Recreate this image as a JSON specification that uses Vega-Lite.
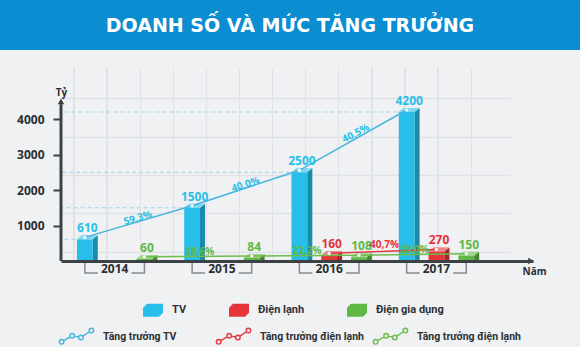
{
  "$schema": "https://vega.github.io/schema/vega-lite/v6.json",
  "background": "#eff1f3",
  "padding": 0,
  "spacing": 18,
  "config": {"font": "Open Sans", "view": {"stroke": null}},
  "resolve": {"legend": {"color": "independent", "stroke": "independent"}},
  "datasets": {
    "banner": [{"title": "DOANH SỐ VÀ MỨC TĂNG TRƯỞNG"}],
    "sales": [
      {"year": "2014", "series": "TV", "value": 610},
      {"year": "2014", "series": "Điện gia dụng", "value": 60},
      {"year": "2015", "series": "TV", "value": 1500, "growth": "59,3%"},
      {"year": "2015", "series": "Điện gia dụng", "value": 84, "growth": "28,6%"},
      {"year": "2016", "series": "TV", "value": 2500, "growth": "40,0%"},
      {"year": "2016", "series": "Điện lạnh", "value": 160},
      {"year": "2016", "series": "Điện gia dụng", "value": 108, "growth": "22,2%"},
      {"year": "2017", "series": "TV", "value": 4200, "growth": "40,5%"},
      {"year": "2017", "series": "Điện lạnh", "value": 270, "growth": "40,7%"},
      {"year": "2017", "series": "Điện gia dụng", "value": 150, "growth": "28,0%"}
    ]
  },
  "vconcat": [
    {
      "width": 580,
      "height": 50,
      "view": {"fill": "#0b8dd1", "stroke": null},
      "data": {"name": "banner"},
      "mark": {"type": "text", "color": "#ffffff", "font": "DejaVu Sans", "fontSize": 19, "fontWeight": "bold", "align": "center", "baseline": "middle", "dy": 1},
      "encoding": {"text": {"field": "title", "type": "nominal"}}
    },
    {
      "width": 533,
      "height": 193,
      "view": {
        "stroke": null,
        "fill": {
          "gradient": "linear", "x1": 0, "y1": 0, "x2": 1, "y2": 0,
          "stops": [
            {"offset": 0, "color": "#eff1f3"},
            {"offset": 0.13762, "color": "#eff1f3"}, {"offset": 0.13762, "color": "#dfe2e6"}, {"offset": 0.14006, "color": "#dfe2e6"}, {"offset": 0.14006, "color": "#eff1f3"},
            {"offset": 0.19972, "color": "#eff1f3"}, {"offset": 0.19972, "color": "#dfe2e6"}, {"offset": 0.20216, "color": "#dfe2e6"}, {"offset": 0.20216, "color": "#eff1f3"},
            {"offset": 0.26182, "color": "#eff1f3"}, {"offset": 0.26182, "color": "#dfe2e6"}, {"offset": 0.26426, "color": "#dfe2e6"}, {"offset": 0.26426, "color": "#eff1f3"},
            {"offset": 0.32392, "color": "#eff1f3"}, {"offset": 0.32392, "color": "#dfe2e6"}, {"offset": 0.32636, "color": "#dfe2e6"}, {"offset": 0.32636, "color": "#eff1f3"},
            {"offset": 0.38602, "color": "#eff1f3"}, {"offset": 0.38602, "color": "#dfe2e6"}, {"offset": 0.38846, "color": "#dfe2e6"}, {"offset": 0.38846, "color": "#eff1f3"},
            {"offset": 0.44812, "color": "#eff1f3"}, {"offset": 0.44812, "color": "#dfe2e6"}, {"offset": 0.45056, "color": "#dfe2e6"}, {"offset": 0.45056, "color": "#eff1f3"},
            {"offset": 0.51022, "color": "#eff1f3"}, {"offset": 0.51022, "color": "#dfe2e6"}, {"offset": 0.51266, "color": "#dfe2e6"}, {"offset": 0.51266, "color": "#eff1f3"},
            {"offset": 0.57233, "color": "#eff1f3"}, {"offset": 0.57233, "color": "#dfe2e6"}, {"offset": 0.57477, "color": "#dfe2e6"}, {"offset": 0.57477, "color": "#eff1f3"},
            {"offset": 0.63443, "color": "#eff1f3"}, {"offset": 0.63443, "color": "#dfe2e6"}, {"offset": 0.63687, "color": "#dfe2e6"}, {"offset": 0.63687, "color": "#eff1f3"},
            {"offset": 0.69653, "color": "#eff1f3"}, {"offset": 0.69653, "color": "#dfe2e6"}, {"offset": 0.69897, "color": "#dfe2e6"}, {"offset": 0.69897, "color": "#eff1f3"},
            {"offset": 0.75863, "color": "#eff1f3"}, {"offset": 0.75863, "color": "#dfe2e6"}, {"offset": 0.76107, "color": "#dfe2e6"}, {"offset": 0.76107, "color": "#eff1f3"},
            {"offset": 0.82073, "color": "#eff1f3"}, {"offset": 0.82073, "color": "#dfe2e6"}, {"offset": 0.82317, "color": "#dfe2e6"}, {"offset": 0.82317, "color": "#eff1f3"},
            {"offset": 0.88283, "color": "#eff1f3"}, {"offset": 0.88283, "color": "#dfe2e6"}, {"offset": 0.88527, "color": "#dfe2e6"}, {"offset": 0.88527, "color": "#eff1f3"},
            {"offset": 1, "color": "#eff1f3"}
          ]
        }
      },
      "data": {"name": "sales"},
      "resolve": {"axis": {"y": "independent"}},
      "encoding": {
        "x": {"field": "year", "type": "ordinal", "scale": {"range": [61, 533], "paddingInner": 0, "paddingOuter": 0.2, "align": 0}},
        "xOffset": {"field": "series", "type": "nominal", "scale": {"domain": ["TV", "Điện lạnh", "Điện gia dụng"], "paddingInner": 0.47, "paddingOuter": 0.535}},
        "y": {"field": "value", "type": "quantitative", "scale": {"domain": [0, 5440], "nice": false}, "axis": null}
      },
      "layer": [
        {
          "mark": {"type": "point", "shape": "M0.5,0L0.817,-0.253L0.817,30L0.5,30Z", "size": 997, "filled": true, "opacity": 1, "strokeWidth": 0, "clip": true},
          "encoding": {
            "y": {"field": "value", "type": "quantitative",
              "axis": {"orient": "left", "offset": -61, "values": [254, 1352, 2423, 3493, 4592], "grid": false, "labels": false, "domain": false, "title": null,
                "ticks": true, "tickSize": -449, "tickColor": "#dfe2e6", "tickWidth": 1.3, "minExtent": 0, "maxExtent": 0}},
            "color": {"field": "series", "type": "nominal", "scale": {"domain": ["TV", "Điện lạnh", "Điện gia dụng"], "range": ["#27bfe9", "#e5343a", "#5fb845"]}}
          }
        },
        {
          "transform": [{"filter": "datum.series == 'TV'"}],
          "mark": {"type": "rule", "color": "#9fd4ea", "strokeWidth": 1, "strokeDash": [4, 3]},
          "encoding": {
            "x": {"field": "year", "type": "ordinal", "bandPosition": 0.2},
            "x2": {"datum": "2014", "bandPosition": 0},
            "xOffset": null
          }
        },
        {
          "mark": {"type": "point", "shape": "M0.5,0L0.817,-0.253L0.817,30L0.5,30Z", "size": 997, "filled": true, "opacity": 0.27, "strokeWidth": 0, "color": "#000000", "clip": true}
        },
        {
          "mark": {"type": "bar"},
          "encoding": {
            "x": {"field": "year", "type": "ordinal",
              "axis": {"title": "Năm", "titleX": 522, "titleY": 13, "titleAlign": "left", "titleBaseline": "alphabetic", "titleFontSize": 10, "titleFontWeight": "bold", "titleColor": "#2b2e31",
                "bandPosition": 0.5, "labelAlign": "center", "labelAngle": 0, "labelFontSize": 12, "labelFontWeight": "bold", "labelColor": "#2b2e31", "labelPadding": 7, "ticks": false, "domainWidth": 3, "domainColor": "#3c4146", "grid": false, "zindex": 1}},
            "y": {"field": "value", "type": "quantitative",
              "axis": {"orient": "left", "offset": -61, "values": [1000, 2000, 3000, 4000], "format": "d", "labelOverlap": false,
                "domain": false, "grid": false, "ticks": true, "tickSize": 8, "tickWidth": 2, "tickColor": "#3c4146",
                "labelFontSize": 12, "labelFontWeight": "bold", "labelColor": "#2b2e31", "labelPadding": 9,
                "title": "Tỷ", "titleAngle": 0, "titleX": 0, "titleY": 27, "titleAlign": "center", "titleBaseline": "alphabetic", "titleFontSize": 10, "titleFontWeight": "bold", "titleColor": "#2b2e31",
                "minExtent": 0, "maxExtent": 0}},
            "color": {"field": "series", "type": "nominal",
              "legend": {"orient": "none", "legendX": 143, "legendY": 232, "direction": "horizontal", "title": null,
                "symbolType": "M-1,-0.25L-0.6,-0.65L1,-0.65L1,0.25L0.6,0.65L-1,0.65Z", "symbolSize": 400, "symbolStrokeWidth": 0, "symbolOpacity": 1,
                "labelFont": "Roboto", "labelFontSize": 11, "labelFontWeight": "bold", "labelColor": "#2e3135", "labelOffset": 9, "columnPadding": 42}}
          }
        },
        {
          "mark": {"type": "point", "shape": "M-0.5,0L0.5,0L0.817,-0.253L-0.183,-0.253Z", "size": 997, "filled": true, "opacity": 1, "strokeWidth": 0},
          "encoding": {"color": {"field": "series", "type": "nominal"}}
        },
        {
          "mark": {"type": "point", "shape": "M-0.5,0L0.5,0L0.817,-0.253L-0.183,-0.253Z", "size": 997, "filled": true, "opacity": 0.4, "strokeWidth": 0, "color": "#ffffff"}
        },
        {
          "transform": [{"filter": "datum.series == 'TV'"}],
          "mark": {"type": "point", "shape": "M0,-0.423L0,0.423L1,0.423", "size": 676, "filled": false, "fill": "transparent", "opacity": 1, "color": "#868a8e", "strokeWidth": 1.5},
          "encoding": {"y": {"datum": -183, "type": "quantitative", "axis": null}}
        },
        {
          "transform": [{"filter": "datum.series == 'Điện gia dụng'"}],
          "mark": {"type": "point", "shape": "M0,-0.423L0,0.423L-1,0.423", "size": 676, "filled": false, "fill": "transparent", "opacity": 1, "color": "#868a8e", "strokeWidth": 1.5},
          "encoding": {"y": {"datum": -183, "type": "quantitative", "axis": null}}
        },
        {
          "transform": [{"filter": "datum.series == 'TV' && datum.year == '2014'"}],
          "mark": {"type": "rule", "color": "#3c4146", "strokeWidth": 3},
          "encoding": {
            "x": {"datum": "2014", "type": "ordinal", "bandPosition": 0},
            "xOffset": null,
            "y": {"datum": 0, "type": "quantitative", "axis": null},
            "y2": {"datum": 4420}
          }
        },
        {
          "transform": [{"filter": "datum.series == 'TV' && datum.year == '2014'"}],
          "mark": {"type": "point", "shape": "triangle-up", "size": 42, "filled": true, "opacity": 1, "color": "#3c4146"},
          "encoding": {
            "x": {"datum": "2014", "type": "ordinal", "bandPosition": 0},
            "xOffset": null,
            "y": {"datum": 4500, "type": "quantitative", "axis": null}
          }
        },
        {
          "transform": [{"filter": "datum.series == 'TV' && datum.year == '2014'"}],
          "mark": {"type": "point", "shape": "triangle-right", "size": 42, "filled": true, "opacity": 1, "color": "#3c4146", "xOffset": -2},
          "encoding": {
            "x": {"value": "width"},
            "xOffset": null,
            "y": {"datum": 0, "type": "quantitative", "axis": null}
          }
        },
        {
          "mark": {"type": "line", "strokeWidth": 1.5, "yOffset": -2},
          "encoding": {
            "stroke": {"field": "series", "type": "nominal", "sort": ["TV", "Điện lạnh", "Điện gia dụng"], "scale": {"range": ["#48b5dc", "#e33b40", "#6dbd4c"]},
              "legend": {"orient": "none", "legendX": 58, "legendY": 250, "direction": "horizontal", "title": null, "columns": 3, "gridAlign": "all",
                "symbolType": "M-0.98,0.3a0.13,0.13 0 1,0 0.26,0a0.13,0.13 0 1,0 -0.26,0M-0.7377,0.2345L-0.3623,0.0155M-0.38,-0.05a0.13,0.13 0 1,0 0.26,0a0.13,0.13 0 1,0 -0.26,0M-0.1225,-0.0245L0.1225,0.0245M0.12,0.05a0.13,0.13 0 1,0 0.26,0a0.13,0.13 0 1,0 -0.26,0M0.3582,-0.0221L0.7418,-0.2779M0.72,-0.35a0.13,0.13 0 1,0 0.26,0a0.13,0.13 0 1,0 -0.26,0",
                "symbolSize": 1225, "symbolStrokeWidth": 1.4, "symbolFillColor": "transparent",
                "labelExpr": "datum.label == 'TV' ? 'Tăng trưởng TV' : 'Tăng trưởng điện lạnh'",
                "labelFont": "Roboto", "labelFontSize": 10.5, "labelFontWeight": "bold", "labelColor": "#2e3135", "labelOffset": 8, "columnPadding": 6}}
          }
        },
        {
          "mark": {"type": "point", "filled": true, "color": "#ffffff", "size": 10, "opacity": 1, "strokeWidth": 0, "yOffset": -2}
        },
        {
          "mark": {"type": "text", "fontSize": 12, "fontWeight": "bold", "dx": 2.5, "dy": -7, "baseline": "alphabetic", "align": "center"},
          "encoding": {
            "text": {"field": "value", "type": "quantitative", "format": "d"},
            "color": {"field": "series", "type": "nominal"}
          }
        },
        {
          "transform": [{"filter": "datum.growth && datum.series == 'TV'"}],
          "mark": {"type": "text", "fontSize": 10, "fontWeight": "bold", "dx": -55, "dy": -5, "baseline": "middle", "align": "center"},
          "encoding": {
            "text": {"field": "growth", "type": "nominal"},
            "angle": {"condition": [{"test": "datum.growth == '40,5%'", "value": -28}, {"test": "datum.growth == '40,0%'", "value": -18}], "value": -16},
            "color": {"field": "series", "type": "nominal"}
          }
        },
        {
          "transform": [{"filter": "datum.growth && datum.series != 'TV'"}],
          "mark": {"type": "text", "fontSize": 10, "fontWeight": "bold", "dx": -52, "dy": -6, "baseline": "middle", "align": "center"},
          "encoding": {
            "text": {"field": "growth", "type": "nominal"},
            "color": {"field": "series", "type": "nominal"}
          }
        }
      ]
    }
  ]
}
